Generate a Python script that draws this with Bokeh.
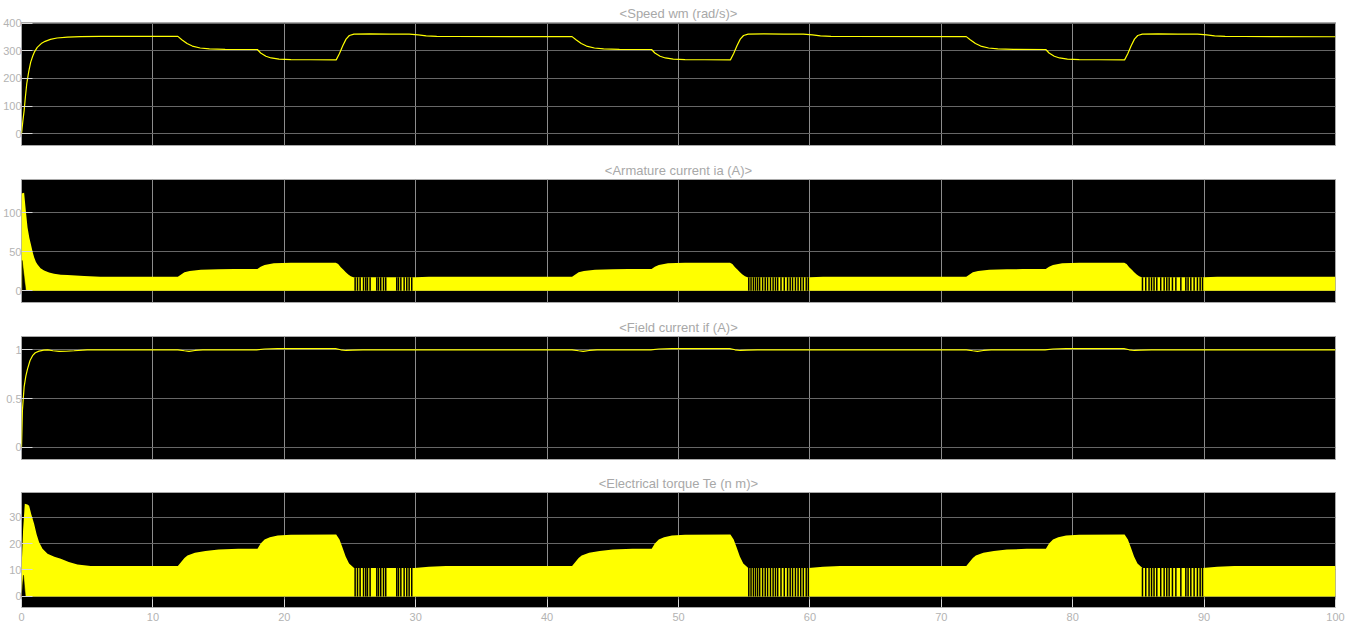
import numpy as np
from bokeh.plotting import figure
from bokeh.layouts import column
from bokeh.models import Range1d, FixedTicker, PrintfTickFormatter
from bokeh.embed import file_html
from bokeh.resources import INLINE

# ---------------- data ----------------
x_ticks = [0, 10, 20, 30, 40, 50, 60, 70, 80, 90, 100]

speed_t = [0, 0.1, 0.2, 0.3, 0.4, 0.55, 0.7, 0.85, 1.0, 1.2, 1.5, 1.8, 2.2, 2.7, 3.5, 4.5, 6.0, 11.9,
           12.2, 12.6, 13.0, 13.6, 14.3, 15.5, 17.95, 18.2, 18.6, 19.0, 19.6, 20.5, 22.0, 23.95,
           24.2, 24.45, 24.7, 24.95, 25.3, 26.5, 28.0, 29.5, 30.2, 30.8, 31.6, 33.0, 41.9,
           42.2, 42.6, 43.0, 43.6, 44.3, 45.5, 47.95, 48.2, 48.6, 49.0, 49.6, 50.5, 52.0, 53.95,
           54.2, 54.45, 54.7, 54.95, 55.3, 56.5, 58.0, 59.5, 60.2, 60.8, 61.6, 63.0, 71.9,
           72.2, 72.6, 73.0, 73.6, 74.3, 75.5, 77.95, 78.2, 78.6, 79.0, 79.6, 80.5, 82.0, 83.95,
           84.2, 84.45, 84.7, 84.95, 85.3, 86.5, 88.0, 89.5, 90.2, 90.8, 91.6, 93.0, 100.0]
speed_v = [0, 45, 84, 135, 181, 225, 259, 280, 297, 312, 326, 334, 341, 346, 349, 351, 352, 352,
           340, 326, 317, 310, 306.5, 305, 304.5, 292, 280, 274, 270, 268, 267.5, 267,
           290, 318, 342, 355, 360, 361, 360, 360, 357, 354, 352, 351.5, 351,
           340, 326, 317, 310, 306.5, 305, 304.5, 292, 280, 274, 270, 268, 267.5, 267,
           290, 318, 342, 355, 360, 361, 360, 360, 357, 354, 352, 351.5, 351,
           340, 326, 317, 310, 306.5, 305, 304.5, 292, 280, 274, 270, 268, 267.5, 267,
           290, 318, 342, 355, 360, 361, 360, 360, 357, 354, 352, 351.5, 350.5]

ia_t = [0, 0.2, 0.33, 0.46, 0.6, 0.71, 0.85, 0.96, 1.1, 1.22, 1.45, 1.72, 2.1, 2.48, 3.0, 3.5, 4.77, 6.0, 11.9,
        12.15, 12.4, 12.8, 13.65, 15.0, 16.2, 17.95, 18.2, 18.5, 19.2, 20.5, 23.92, 24.1, 24.3, 24.5,
        24.68, 24.87, 25.06, 25.25, 30.0, 31.0, 41.9,
        42.15, 42.4, 42.8, 43.65, 45.0, 46.2, 47.95, 48.2, 48.5, 49.2, 50.5, 53.92, 54.1, 54.3, 54.5,
        54.68, 54.87, 55.06, 55.25, 60.0, 61.0, 71.9,
        72.15, 72.4, 72.8, 73.65, 75.0, 76.2, 77.95, 78.2, 78.5, 79.2, 80.5, 83.92, 84.1, 84.3, 84.5,
        84.68, 84.87, 85.06, 85.25, 90.0, 91.0, 100.0]
ia_v = [125, 126, 103, 81.5, 68, 60, 50, 43, 37, 33.7, 29, 26, 23.5, 21.8, 20.8, 20.3, 19, 18, 18,
        21, 24, 25.5, 27, 27.6, 27.9, 28, 31, 33.3, 35.4, 36, 36, 34.5, 30.3, 27,
        24, 21, 18.8, 17.5, 17.5, 18, 18,
        21, 24, 25.5, 27, 27.6, 27.9, 28, 31, 33.3, 35.4, 36, 36, 34.5, 30.3, 27,
        24, 21, 18.8, 17.5, 17.5, 18, 18,
        21, 24, 25.5, 27, 27.6, 27.9, 28, 31, 33.3, 35.4, 36, 36, 34.5, 30.3, 27,
        24, 21, 18.8, 17.5, 17.5, 18, 18]
ia_notch_t = [0.05, 0.05, 0.33]
ia_notch_v = [39, 0, 0]

if_t = [0, 0.07, 0.2, 0.33, 0.46, 0.65, 0.84, 1.05, 1.34, 1.7, 2.0, 2.4, 2.86, 3.4, 4.0, 5.0, 11.9,
        12.4, 12.75, 13.2, 13.8, 17.9, 18.5, 19.5, 23.9, 24.3, 24.7, 25.2, 26.0, 41.9,
        42.4, 42.75, 43.2, 43.8, 47.9, 48.5, 49.5, 53.9, 54.3, 54.7, 55.2, 56.0, 71.9,
        72.4, 72.75, 73.2, 73.8, 77.9, 78.5, 79.5, 83.9, 84.3, 84.7, 85.2, 86.0, 100.0]
if_v = [0, 0.38, 0.62, 0.73, 0.805, 0.89, 0.94, 0.97, 0.986, 0.997, 0.999, 0.99, 0.983, 0.985, 0.99, 1.0, 1.0,
        0.99, 0.984, 0.993, 1.0, 1.0, 1.008, 1.011, 1.011, 1.0, 0.993, 0.997, 1.0, 1.0,
        0.99, 0.984, 0.993, 1.0, 1.0, 1.008, 1.011, 1.011, 1.0, 0.993, 0.997, 1.0, 1.0,
        0.99, 0.984, 0.993, 1.0, 1.0, 1.008, 1.011, 1.011, 1.0, 0.993, 0.997, 1.0, 1.0]

te_t = [0, 0.12, 0.25, 0.45, 0.58, 0.75, 0.96, 1.15, 1.34, 1.6, 1.98, 2.5, 2.99, 3.6, 4.26, 5.27, 11.9,
        12.15, 12.4, 12.63, 13.2, 14.0, 15.0, 16.5, 17.96, 18.2, 18.5, 18.9, 19.5, 20.5, 23.95,
        24.2, 24.42, 24.67, 24.93, 25.31, 29.9, 31.0, 32.3, 41.9,
        42.15, 42.4, 42.63, 43.2, 44.0, 45.0, 46.5, 47.96, 48.2, 48.5, 48.9, 49.5, 50.5, 53.95,
        54.2, 54.42, 54.67, 54.93, 55.31, 59.9, 61.0, 62.3, 71.9,
        72.15, 72.4, 72.63, 73.2, 74.0, 75.0, 76.5, 77.96, 78.2, 78.5, 78.9, 79.5, 80.5, 83.95,
        84.2, 84.42, 84.67, 84.93, 85.31, 89.9, 91.0, 92.3, 100.0]
te_v = [9.8, 25, 35, 34.8, 34.3, 31, 27.5, 23.5, 20.5, 18, 16.1, 15, 14.2, 13, 12.1, 11.5, 11.5,
        13, 14.5, 15.5, 16.5, 17.2, 17.7, 18, 18, 20, 21.5, 22.4, 23, 23.3, 23.4,
        21.5, 18.6, 15.1, 12.4, 10.7, 10.7, 11.2, 11.5, 11.5,
        13, 14.5, 15.5, 16.5, 17.2, 17.7, 18, 18, 20, 21.5, 22.4, 23, 23.3, 23.4,
        21.5, 18.6, 15.1, 12.4, 10.7, 10.7, 11.2, 11.5, 11.5,
        13, 14.5, 15.5, 16.5, 17.2, 17.7, 18, 18, 20, 21.5, 22.4, 23, 23.3, 23.4,
        21.5, 18.6, 15.1, 12.4, 10.7, 10.7, 11.2, 11.5, 11.5]
te_notch_t = [0.0, 0.15, 0.3]
te_notch_v = [0, 8, 0]

# black chopping gaps (times)
gap_t_1 = [25.39, 25.57, 25.77, 26.03, 26.20, 26.33, 26.53, 27.04, 27.17, 27.34, 27.55, 27.72,
           28.56, 28.69, 28.87, 29.12, 29.32, 29.50, 29.70]
gap_t_2 = [55.35, 55.52, 55.70, 55.86, 56.02, 56.18, 56.40, 56.60, 56.78, 57.00, 57.20, 57.38,
           57.55, 57.80, 58.05, 58.30, 58.50, 58.68, 58.90, 59.10, 59.30, 59.50, 59.72, 59.88]
gap_t_3 = [85.31, 85.56, 85.81, 86.00, 86.19, 86.40, 86.70, 86.96, 87.16, 87.34, 87.59, 87.85,
           88.23, 88.61, 88.78, 88.99, 89.24, 89.49, 89.70, 89.88]

titles = ["<Speed wm (rad/s)>", "<Armature current ia (A)>",
          "<Field current if (A)>", "<Electrical torque Te (n m)>"]
y_ranges = [(-42, 402), (-15, 143), (-0.123, 1.136), (-4.2, 39.3)]
y_ticks = [[0, 100, 200, 300, 400], [0, 50, 100], [0, 0.5, 1], [0, 10, 20, 30]]

# ---------------- styling ----------------
YELLOW = "#ffff00"
GRID_X = "#8c8c8c"
GRID_Y = "#676767"
LABEL = "#b3b3b3"
TITLE = "#a8a8a8"
FONT = "Liberation Sans"
W = 1350


def make_fig(i, last=False):
    h = 157
    p = figure(width=W, height=h, output_backend="svg", toolbar_location=None,
               x_range=Range1d(0, 100), y_range=Range1d(*y_ranges[i]),
               min_border_left=20, min_border_right=15,
               min_border_top=21 if last else 22,
               min_border_bottom=21 if last else 12)
    p.background_fill_color = "black"
    p.border_fill_color = "white"
    p.outline_line_color = "#a9a9a9"
    p.outline_line_width = 1
    p.title.text = titles[i]
    p.title.align = "center"
    p.title.text_font = FONT
    p.title.text_font_size = "13px"
    p.title.text_font_style = "normal"
    p.title.text_color = TITLE
    p.title.standoff = 3

    xt = FixedTicker(ticks=x_ticks)
    yt = FixedTicker(ticks=y_ticks[i])
    p.xaxis.ticker = xt
    p.yaxis.ticker = yt
    p.xgrid.ticker = xt
    p.ygrid.ticker = yt
    p.xgrid.grid_line_color = GRID_X
    p.ygrid.grid_line_color = GRID_Y
    p.xgrid.grid_line_width = 1
    p.ygrid.grid_line_width = 1

    for ax in p.yaxis:
        ax.axis_line_color = None
        ax.major_tick_in = 11
        ax.major_tick_out = 0
        ax.minor_tick_line_color = None
        ax.major_tick_line_color = "#d9d9d9"
        ax.major_label_text_font = FONT
        ax.major_label_text_font_size = "11px"
        ax.major_label_text_color = LABEL
        ax.major_label_standoff = 0
        if i == 2:
            ax.formatter = PrintfTickFormatter(format="%g")

    if last:
        for ax in p.xaxis:
            ax.axis_line_color = None
            ax.major_tick_in = 8
            ax.major_tick_out = 0
            ax.minor_tick_line_color = None
            ax.major_tick_line_color = "#d9d9d9"
            ax.major_label_text_font = FONT
            ax.major_label_text_font_size = "11px"
            ax.major_label_text_color = LABEL
            ax.major_label_standoff = 5
    else:
        p.xaxis.visible = False
    return p


# speed
p1 = make_fig(0)
p1.line(speed_t, speed_v, line_color=YELLOW, line_width=1.2)

# armature current
p2 = make_fig(1)
p2.varea(x=ia_t, y1=[0] * len(ia_t), y2=ia_v, fill_color=YELLOW)
p2.patch(ia_notch_t, ia_notch_v, fill_color="black", line_color="black", line_width=0.5)
gaps = gap_t_1 + gap_t_2 + gap_t_3
ia_gap_top = list(np.interp(gaps, ia_t, ia_v))
p2.segment(x0=gaps, y0=[0] * len(gaps), x1=gaps, y1=ia_gap_top, line_color="black", line_width=1.5)

# field current
p3 = make_fig(2)
p3.line(if_t, if_v, line_color=YELLOW, line_width=1.2)

# torque
p4 = make_fig(3, last=True)
p4.varea(x=te_t, y1=[0] * len(te_t), y2=te_v, fill_color=YELLOW)
p4.patch(te_notch_t, te_notch_v, fill_color="black", line_color="black", line_width=0.5)
te_gap_top = list(np.interp(gaps, te_t, te_v))
p4.segment(x0=gaps, y0=[0] * len(gaps), x1=gaps, y1=te_gap_top, line_color="black", line_width=1.5)

layout = column(p1, p2, p3, p4, spacing=0)
open("out.html", "w").write(file_html(layout, INLINE))
